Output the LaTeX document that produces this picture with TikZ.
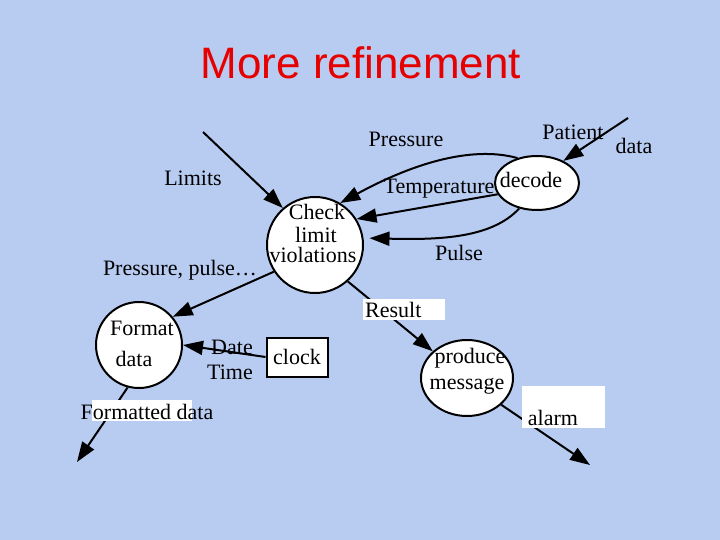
\documentclass[tikz,border=0pt]{standalone}
\usepackage{fontspec}
\setmainfont{Liberation Serif}
\newfontfamily\titlefont{Liberation Sans}
\usetikzlibrary{arrows.meta,shapes.geometric}
\definecolor{bgblue}{RGB}{184,204,242}
\definecolor{titlered}{RGB}{230,0,0}
\tikzset{
  arr/.style={line width=2pt,-{Triangle[length=20pt,width=14pt]}},
  proc/.style={draw,line width=2pt,fill=white,inner sep=0pt},
  lbl/.style={inner sep=0pt,font=\fontsize{22}{25}\selectfont},
  wbox/.style={fill=white,draw=none}
}
\begin{document}
\begin{tikzpicture}[x=1pt,y=-1pt]
\fill[bgblue] (0,0) rectangle (720,540);
\useasboundingbox (0,0) rectangle (720,540);
\node[text=titlered,font=\titlefont\fontsize{44}{50}\selectfont] (title) at (361,63) {More refinement};

% processes
\node[proc,circle,minimum size=96pt] (check) at (315,245) {};
\node[lbl] (t1) at (317,212) {Check};
\node[lbl] (t2) at (316,235) {limit};
\node[lbl] (t3) at (313,255) {violations};

\node[proc,ellipse,minimum width=84pt,minimum height=54pt] (decode) at (537,183) {};
\node[lbl] (t4) at (531,180) {decode};

\node[proc,circle,minimum size=86pt] (fmt) at (139,345) {};
\node[lbl] (t5) at (142,328) {Format};
\node[lbl] (t6) at (134,359) {data};

\node[proc,ellipse,minimum width=92pt,minimum height=76pt] (produce) at (467,378) {};
\node[lbl] (t7) at (470,358) {produce};
\node[lbl] (t8) at (467,386) {message};

\node[draw,line width=2pt,fill=white,minimum width=61pt,minimum height=39pt,inner sep=0pt,font=\fontsize{22}{25}\selectfont] (clock) at (297,357) {clock};

% free ends
\coordinate (limsrc) at (203,132);
\coordinate (patsrc) at (628,118);
\coordinate (fdout) at (77,462);
\coordinate (alarmout) at (590,465);

% flows
\draw[arr] (limsrc) -- (check.131);
\draw[arr] (patsrc) -- (decode.40);
\draw[arr] (decode.128) .. controls (470,145) and (410,165) .. (check.59);
\draw[arr] (decode.196) -- (check.32);
\draw[arr] (decode.235) .. controls (492,238) and (440,240) .. ([xshift=6pt]check.8);
\draw[arr] (check.213) -- (fmt.40);
\draw[arr] (clock.west) -- (fmt.east);
\draw[arr] (fmt.-105) -- (fdout);
\draw[arr] (check.-48) -- (produce.142);
\draw[arr] (produce.-38) -- (alarmout);

% white label boxes (cover the flows)
\fill[wbox] (363,299) rectangle (445,320);
\fill[wbox] (522,386) rectangle (605,428);
\fill[wbox] (92,400) rectangle (192,421);

% labels
\node[lbl] (lLimits) at (193,178) {Limits};
\node[lbl] (lPress) at (406,139) {Pressure};
\node[lbl] (lTemp) at (439,189) {Temperature};
\node[lbl] (lPulse) at (459,253) {Pulse};
\node[lbl] (lPat) at (573,132) {Patient};
\node[lbl] (lData) at (634,146) {data};
\node[lbl] (lPP) at (180,270) {Pressure, pulse\dots};
\node[lbl] (lDate) at (232,347) {Date};
\node[lbl] (lTime) at (230,372) {Time};
\node[lbl] (lFD) at (147,412) {Formatted data};
\node[lbl,anchor=west] (lRes) at (365,310) {Result};
\node[lbl] (lAlarm) at (553,418) {alarm};
\end{tikzpicture}
\end{document}
